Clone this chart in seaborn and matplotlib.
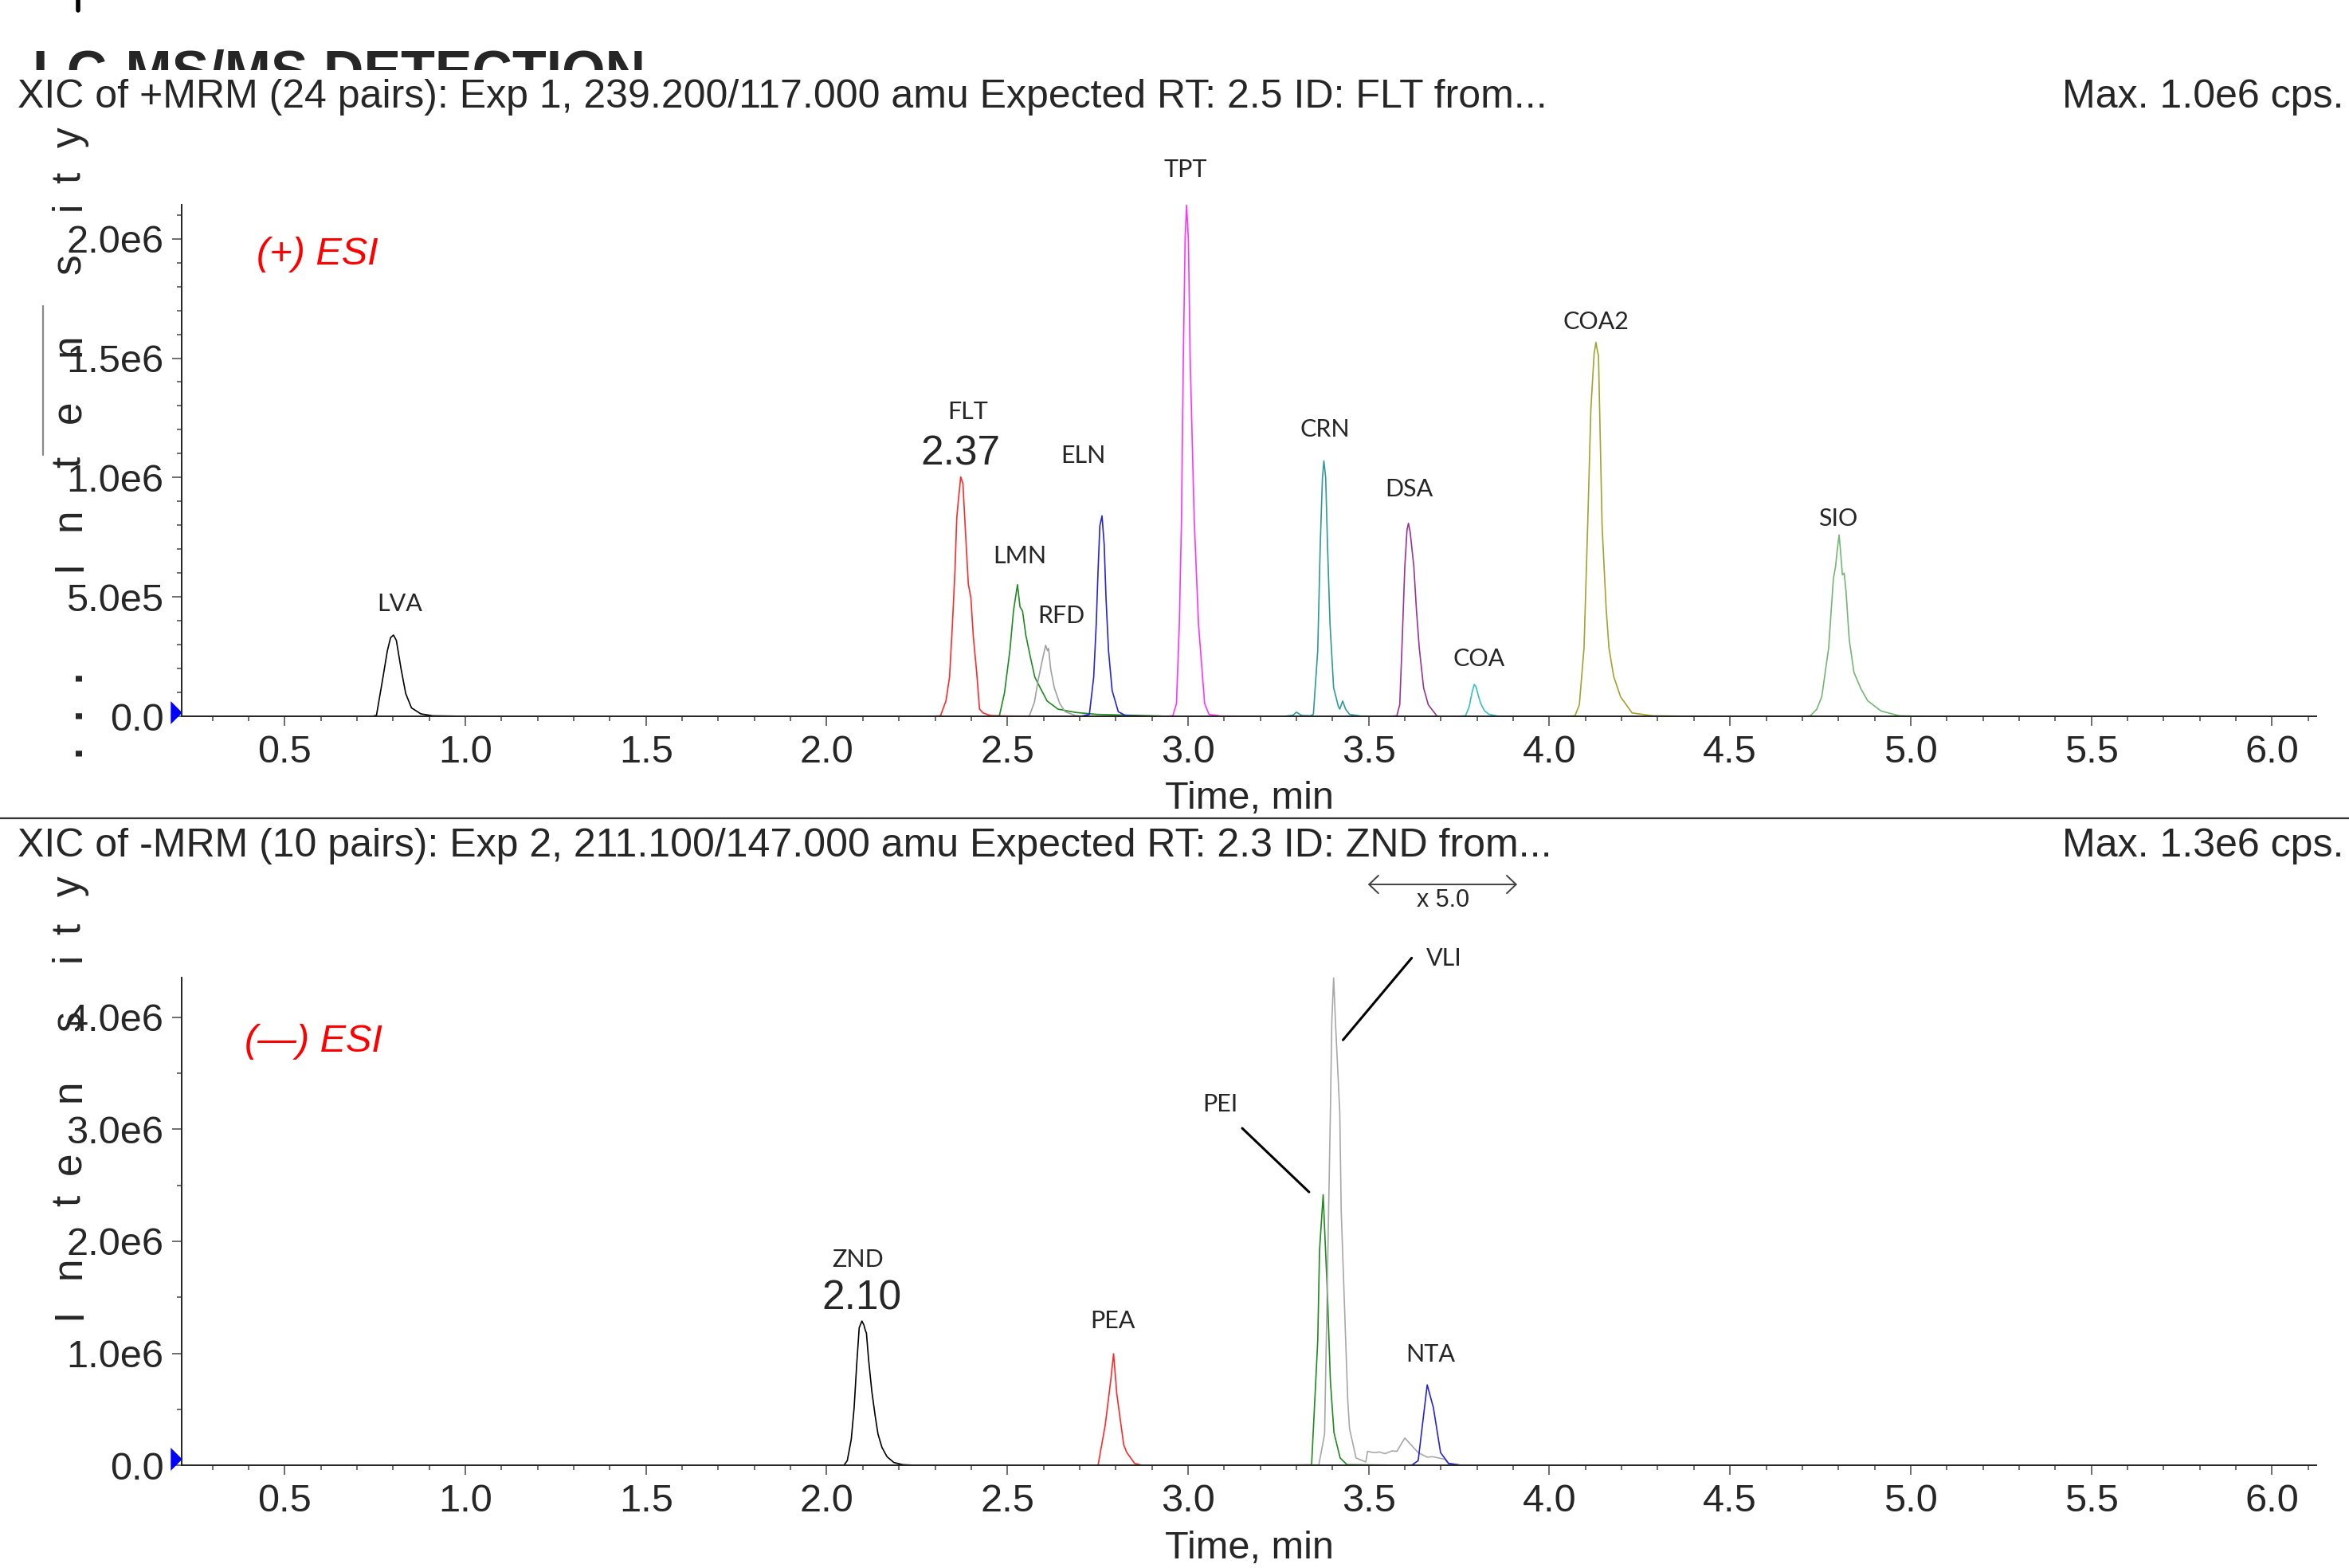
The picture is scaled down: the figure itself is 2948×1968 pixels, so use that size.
import numpy as np
import pandas as pd
import seaborn as sns
import matplotlib.pyplot as plt
from matplotlib.ticker import MultipleLocator, FuncFormatter
from matplotlib.patches import Rectangle
from matplotlib.lines import Line2D

# ---- data (time in min, intensity in 1e6 cps) ----
# (+) ESI panel
lva_t = [0.22, 0.74, 0.754, 0.771, 0.784, 0.793, 0.801, 0.809, 0.822, 0.835, 0.851, 0.877, 0.91, 1.05]
lva_i = [0.0, 0.0, 0.005, 0.155, 0.274, 0.33, 0.341, 0.319, 0.200, 0.096, 0.036, 0.011, 0.003, 0.0]
flt_t = [2.28, 2.315, 2.330, 2.340, 2.348, 2.355, 2.360, 2.364, 2.371, 2.377, 2.384, 2.392, 2.399, 2.406, 2.415, 2.423, 2.433, 2.453, 2.5, 2.79]
flt_i = [0.0, 0.003, 0.065, 0.165, 0.387, 0.609, 0.831, 0.898, 1.003, 0.976, 0.776, 0.554, 0.498, 0.331, 0.187, 0.031, 0.015, 0.004, 0.002, 0.0]
lmn_t = [2.46, 2.478, 2.492, 2.507, 2.517, 2.528, 2.535, 2.542, 2.551, 2.563, 2.576, 2.591, 2.610, 2.640, 2.689, 2.748, 2.926]
lmn_i = [0.0, 0.003, 0.098, 0.276, 0.442, 0.552, 0.459, 0.442, 0.342, 0.254, 0.165, 0.12, 0.065, 0.031, 0.017, 0.009, 0.002]
rfd_t = [2.55, 2.561, 2.575, 2.585, 2.593, 2.601, 2.606, 2.611, 2.614, 2.620, 2.630, 2.645, 2.660, 2.689, 2.72]
rfd_i = [0.0, 0.003, 0.06, 0.15, 0.209, 0.265, 0.298, 0.276, 0.285, 0.198, 0.12, 0.054, 0.02, 0.004, 0.0]
eln_t = [2.70, 2.727, 2.739, 2.746, 2.751, 2.756, 2.762, 2.768, 2.773, 2.780, 2.790, 2.807, 2.827, 2.90]
eln_i = [0.0, 0.009, 0.165, 0.387, 0.609, 0.798, 0.840, 0.72, 0.498, 0.276, 0.109, 0.02, 0.004, 0.0]
tpt_t = [2.93, 2.958, 2.968, 2.976, 2.982, 2.987, 2.992, 2.996, 3.001, 3.006, 3.017, 3.029, 3.046, 3.058, 3.09, 3.30]
tpt_i = [0.0, 0.003, 0.054, 0.387, 0.831, 1.498, 2.0, 2.14, 2.0, 1.498, 0.831, 0.387, 0.054, 0.009, 0.002, 0.0]
crn_t = [3.26, 3.29, 3.300, 3.315, 3.340, 3.347, 3.359, 3.366, 3.372, 3.376, 3.381, 3.386, 3.393, 3.403, 3.416, 3.420, 3.428, 3.436, 3.447, 3.477, 3.60]
crn_i = [0.0, 0.005, 0.018, 0.004, 0.003, 0.01, 0.276, 0.72, 0.998, 1.070, 1.0, 0.72, 0.387, 0.12, 0.043, 0.031, 0.065, 0.031, 0.009, 0.002, 0.0]
dsa_t = [3.55, 3.578, 3.586, 3.592, 3.600, 3.606, 3.610, 3.615, 3.625, 3.632, 3.640, 3.652, 3.665, 3.690]
dsa_i = [0.0, 0.003, 0.05, 0.287, 0.627, 0.78, 0.809, 0.77, 0.627, 0.45, 0.287, 0.12, 0.049, 0.0]
coa_t = [3.74, 3.768, 3.778, 3.786, 3.792, 3.797, 3.803, 3.810, 3.820, 3.832, 3.855, 3.90]
coa_i = [0.0, 0.003, 0.04, 0.1, 0.134, 0.125, 0.09, 0.055, 0.025, 0.01, 0.002, 0.0]
coa2_t = [4.04, 4.071, 4.083, 4.096, 4.106, 4.115, 4.124, 4.129, 4.133, 4.136, 4.146, 4.157, 4.165, 4.178, 4.197, 4.229, 4.286, 4.45]
coa2_i = [0.0, 0.003, 0.049, 0.287, 0.797, 1.290, 1.52, 1.566, 1.53, 1.511, 0.797, 0.457, 0.287, 0.168, 0.083, 0.015, 0.003, 0.0]
sio_t = [4.70, 4.722, 4.740, 4.754, 4.773, 4.786, 4.792, 4.797, 4.802, 4.806, 4.811, 4.816, 4.821, 4.830, 4.843, 4.862, 4.881, 4.918, 4.969, 5.05]
sio_i = [0.0, 0.003, 0.03, 0.083, 0.287, 0.576, 0.627, 0.70, 0.760, 0.69, 0.593, 0.60, 0.525, 0.321, 0.185, 0.117, 0.066, 0.023, 0.003, 0.0]

# (-) ESI panel
znd_t = [1.95, 2.048, 2.057, 2.068, 2.076, 2.083, 2.090, 2.0975, 2.103, 2.107, 2.110, 2.116, 2.125, 2.134, 2.142, 2.153, 2.167, 2.186, 2.211, 2.244, 2.30]
znd_i = [0.0, 0.003, 0.043, 0.232, 0.517, 0.897, 1.229, 1.288, 1.253, 1.205, 1.181, 0.944, 0.659, 0.446, 0.28, 0.161, 0.078, 0.026, 0.007, 0.002, 0.0]
pea_t = [2.73, 2.751, 2.771, 2.786, 2.794, 2.803, 2.822, 2.830, 2.852, 2.874]
pea_i = [0.0, 0.0, 0.363, 0.755, 0.997, 0.636, 0.185, 0.119, 0.019, 0.0]
pei_t = [3.20, 3.342, 3.359, 3.364, 3.374, 3.386, 3.394, 3.404, 3.421, 3.440, 3.563]
pei_i = [0.0, 0.005, 1.11, 1.917, 2.415, 1.514, 0.755, 0.292, 0.067, 0.007, 0.003]
vli_t = [3.209, 3.362, 3.378, 3.394, 3.398, 3.403, 3.408, 3.420, 3.424, 3.442, 3.447, 3.465, 3.492, 3.497, 3.514, 3.530, 3.545, 3.565, 3.578, 3.600, 3.637, 3.662, 3.677, 3.711, 3.721, 3.76]
vli_i = [0.005, 0.005, 0.28, 3.15, 3.96, 4.354, 3.96, 3.15, 2.27, 0.589, 0.328, 0.067, 0.031, 0.126, 0.114, 0.12, 0.105, 0.13, 0.126, 0.245, 0.114, 0.074, 0.078, 0.055, 0.014, 0.0]
nta_t = [3.618, 3.637, 3.662, 3.679, 3.699, 3.721, 3.760]
nta_i = [0.0, 0.043, 0.719, 0.517, 0.114, 0.019, 0.0]

pos_traces = {'LVA': (lva_t, lva_i), 'FLT': (flt_t, flt_i), 'LMN': (lmn_t, lmn_i), 'RFD': (rfd_t, rfd_i),
              'ELN': (eln_t, eln_i), 'TPT': (tpt_t, tpt_i), 'CRN': (crn_t, crn_i), 'DSA': (dsa_t, dsa_i),
              'COA': (coa_t, coa_i), 'COA2': (coa2_t, coa2_i), 'SIO': (sio_t, sio_i)}
neg_traces = {'ZND': (znd_t, znd_i), 'PEA': (pea_t, pea_i), 'PEI': (pei_t, pei_i),
              'VLI': (vli_t, vli_i), 'NTA': (nta_t, nta_i)}

colors = {'LVA': '#000000', 'FLT': '#ff2a2a', 'LMN': '#1e8c1e', 'RFD': '#a0a0a0', 'ELN': '#2424dc',
          'TPT': '#ff33ff', 'CRN': '#2e9a9a', 'DSA': '#993399', 'COA': '#33c2c2', 'COA2': '#a3a32e',
          'SIO': '#72b872', 'ZND': '#000000', 'PEA': '#ff2a2a', 'PEI': '#1e8c1e', 'VLI': '#a8a8a8',
          'NTA': '#2424dc'}

# peak labels: name, time, intensity (1e6)
pos_labels = [('LVA', 0.819, 0.47), ('FLT', 2.391, 1.276), ('LMN', 2.535, 0.670), ('RFD', 2.650, 0.422),
              ('ELN', 2.709, 1.092), ('TPT', 2.992, 2.288), ('CRN', 3.378, 1.202), ('DSA', 3.611, 0.953),
              ('COA', 3.805, 0.242), ('COA2', 4.128, 1.651), ('SIO', 4.798, 0.828)]
neg_labels = [('ZND', 2.087, 1.834), ('PEA', 2.791, 1.287), ('NTA', 3.670, 0.992), ('PEI', 3.090, 3.22),
              ('VLI', 3.709, 4.522)]


def to_frame(traces):
    rows = []
    for name, (t, i) in traces.items():
        for tt, ii in zip(t, i):
            rows.append({'compound': name, 'time': tt, 'intensity': ii * 1e6})
    return pd.DataFrame(rows)


def sci_label(v, pos):
    if abs(v) < 1:
        return '0.0'
    e = int(np.floor(np.log10(abs(v)) + 1e-9))
    return f'{v / 10 ** e:.1f}e{e}'


sns.set_style('ticks')
plt.rcParams['font.family'] = ['Liberation Sans', 'DejaVu Sans']
label_font = ['Lato', 'DejaVu Sans']

W, H = 2948, 1968
fig = plt.figure(figsize=(W / 200, H / 200), dpi=200)
ax1 = fig.add_axes([0.07751, 0.54304, 0.90848, 0.32652])
ax2 = fig.add_axes([0.07751, 0.06540, 0.90848, 0.31128])

df_pos = to_frame(pos_traces)
df_neg = to_frame(neg_traces)
sns.lineplot(data=df_pos, x='time', y='intensity', hue='compound', palette=colors, estimator=None,
             sort=False, legend=False, lw=0.6, ax=ax1)
sns.lineplot(data=df_neg, x='time', y='intensity', hue='compound', palette=colors, estimator=None,
             sort=False, legend=False, lw=0.6, ax=ax2)

for ax, ymax, ymaj, ymin in [(ax1, 2.143e6, 5e5, 1e5), (ax2, 4.354e6, 1e6, 5e5)]:
    ax.set_xlim(0.216, 6.122)
    ax.set_ylim(0, ymax)
    ax.xaxis.set_major_locator(MultipleLocator(0.5))
    ax.xaxis.set_minor_locator(MultipleLocator(0.1))
    ax.yaxis.set_major_locator(MultipleLocator(ymaj))
    ax.yaxis.set_minor_locator(MultipleLocator(ymin))
    ax.yaxis.set_major_formatter(FuncFormatter(sci_label))
    ax.xaxis.set_major_formatter(FuncFormatter(lambda v, p: f'{v:.1f}'))
    ax.tick_params(which='major', length=4.3, width=0.6, color='#555555', labelsize=17.5, pad=4)
    ax.tick_params(which='minor', length=2.3, width=0.6, color='#555555')
    sns.despine(ax=ax)
    for s in ('left', 'bottom'):
        ax.spines[s].set_linewidth(0.7)
        ax.spines[s].set_color('#222222')
    ax.set_xlabel('Time, min', fontsize=17.5)
    ax.set_ylabel('')

ax1.xaxis.set_label_coords(0.5, -0.125)
ax2.xaxis.set_label_coords(0.5, -0.133)

# blue start markers
tri = [(-0.5, 1), (-0.5, -1), (0.5, 0)]
ax1.plot([-0.0029], [0.018e6], marker=tri, ms=10.4, color='#0000ff', mec='none',
         transform=ax1.get_yaxis_transform(), clip_on=False)
ax2.plot([-0.0029], [0.059e6], marker=tri, ms=10.4, color='#0000ff', mec='none',
         transform=ax2.get_yaxis_transform(), clip_on=False)

# peak labels
for name, t, v in pos_labels:
    ax1.text(t, v * 1e6, name, ha='center', va='center', fontsize=11, family=label_font)
for name, t, v in neg_labels:
    ax2.text(t, v * 1e6, name, ha='center', va='center', fontsize=11, family=label_font, clip_on=False)
ax1.text(2.371, 1.098e6, '2.37', ha='center', va='center', fontsize=18.5)
ax2.text(2.0975, 1.49e6, '2.10', ha='center', va='center', fontsize=18.5)

ax1.text(0.590, 1.935e6, '(+) ESI', color='red', style='italic', fontsize=17.5, ha='center', va='center')
ax2.text(0.579, 3.777e6, '(—) ESI', color='red', style='italic', fontsize=17.5, ha='center', va='center')

# leader lines and the x 5.0 zoom marker
ax2.annotate('', xy=(3.335, 2.439e6), xytext=(3.150, 3.008e6),
             arrowprops=dict(arrowstyle='-', lw=1.1, color='black', shrinkA=0, shrinkB=0))
ax2.annotate('', xy=(3.429, 3.796e6), xytext=(3.619, 4.527e6),
             arrowprops=dict(arrowstyle='-', lw=1.1, color='black', shrinkA=0, shrinkB=0))
ax2.annotate('', xy=(3.498, 5.183e6), xytext=(3.911, 5.183e6), annotation_clip=False,
             arrowprops=dict(arrowstyle='<->,head_length=0.42,head_width=0.4', mutation_scale=10,
                             lw=0.7, color='#404040', shrinkA=0, shrinkB=0))
ax2.text(3.705, 5.04e6, 'x 5.0', ha='center', va='center', fontsize=11, clip_on=False)

# titles
fig.text(41 / W, 1 - 61.7 / H, 'LC-MS/MS DETECTION', fontsize=25.2, fontweight='bold', va='top', zorder=1)
fig.add_artist(Rectangle((0, 1 - 150 / H), 1, (150 - 88.3) / H, transform=fig.transFigure,
                         facecolor='white', edgecolor='none', zorder=2))
fig.add_artist(Line2D([97.6 / W, 97.6 / W], [1, 1 - 13 / H], color='black', lw=2, zorder=3))
fig.text(22.5 / W, 1 - 122.4 / H,
         'XIC of +MRM (24 pairs): Exp 1, 239.200/117.000 amu Expected RT: 2.5 ID: FLT from...',
         fontsize=18, va='center', zorder=3)
fig.text(2942 / W, 1 - 122.4 / H, 'Max. 1.0e6 cps.', fontsize=18, va='center', ha='right', zorder=3)
fig.text(22.5 / W, 1 - 1062.4 / H,
         'XIC of -MRM (10 pairs): Exp 2, 211.100/147.000 amu Expected RT: 2.3 ID: ZND from...',
         fontsize=18, va='center', zorder=3)
fig.text(2942 / W, 1 - 1062.4 / H, 'Max. 1.3e6 cps.', fontsize=18, va='center', ha='right', zorder=3)

# separator between the two panes and the small grey bar
fig.add_artist(Line2D([0, 1], [1 - 1026.7 / H] * 2, color='#333333', lw=0.8))
fig.add_artist(Line2D([54 / W] * 2, [1 - 384 / H, 1 - 571 / H], color='#888888', lw=0.8))

# spaced-out y axis captions
word = 'Intensity'
top_ys = [710, 652, 580, 517, 433, 331, 258, 223, 172]
bot_ys = [1649, 1591, 1507, 1460, 1369, 1281, 1201, 1166, 1112]
for ch, yt, yb in zip(word, top_ys, bot_ys):
    fig.text(101 / W, 1 - yt / H, ch, rotation=90, rotation_mode='anchor', ha='center',
             va='baseline', fontsize=18.5, zorder=3)
    fig.text(101 / W, 1 - yb / H, ch, rotation=90, rotation_mode='anchor', ha='center',
             va='baseline', fontsize=18.5, zorder=3)
for yd in [848, 895, 942]:
    fig.text(101 / W, 1 - yd / H, '.', rotation=90, rotation_mode='anchor', ha='center',
             va='baseline', fontsize=18.5, fontweight='bold')

fig.savefig('out.png', dpi=200)
